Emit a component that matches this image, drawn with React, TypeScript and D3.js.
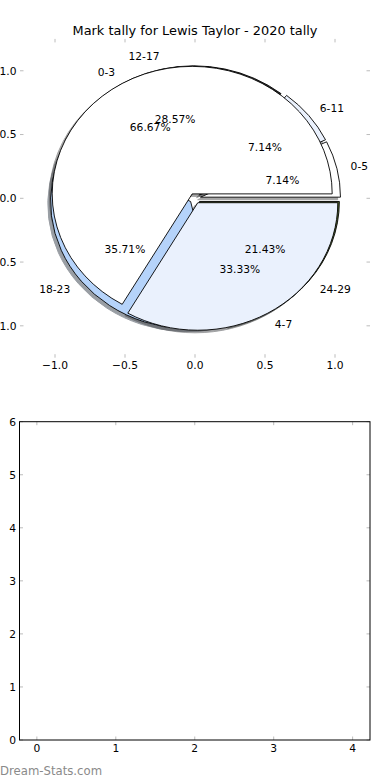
import React from 'react'
import * as d3 from 'd3'

// values
const chartTitle = 'Mark tally for Lewis Taylor - 2020 tally'
const bandLabels = ['0-5', '6-11', '12-17', '18-23', '24-29']
const bandCounts = [1, 1, 4, 5, 3]
const quarterLabels = ['0-3', '4-7']
const quarterCounts = [2, 1]
const sliceColors = ['#ffffff', '#eaf1fd', '#2e2e2e', '#b5d3fa', '#556b2f']
const pieTicks = [-1.0, -0.5, 0.0, 0.5, 1.0]
const emptyXTicks = [0, 1, 2, 3, 4]
const emptyYTicks = [0, 1, 2, 3, 4, 5, 6]

const W = 390
const H = 780
const font = 'DejaVu Sans, sans-serif'
const tickColor = '#bcbcbc'
const explode = 0.04
const shadowOff = -0.02

const topBox = { left: 20, right: 370, top: 38.9, bottom: 357.7 }
const lowBox = { left: 19.5, right: 370, top: 421.7, bottom: 740 }

const fmtTick = (v: number) => d3.format('.1f')(v).replace('-', '\u2212')
const fmtPct = d3.format('.2f')

function Pie(props: any) {
  const { labels, counts, xScale, yScale } = props
  const sx = xScale(1) - xScale(0)
  const sy = yScale(0) - yScale(1)
  const total = d3.sum(counts as number[])

  const slices = d3.pie<number>()
    .sort(null)
    .value(d => d)
    .startAngle(Math.PI / 2)
    .endAngle(Math.PI / 2 - 2 * Math.PI)(counts)

  const arcGen = d3.arc<any>()

  return slices.map((s, i) => {
    const mid = (s.startAngle + s.endAngle) / 2
    const theta = Math.PI / 2 - mid
    const ex = explode * Math.cos(theta)
    const ey = explode * Math.sin(theta)
    const d = arcGen({ innerRadius: 0, outerRadius: 1, startAngle: s.startAngle, endAngle: s.endAngle }) as string
    const fill = sliceColors[i % sliceColors.length]
    const c = d3.rgb(fill)
    const shade = d3.rgb(c.r * 0.3, c.g * 0.3, c.b * 0.3).toString()

    const lx = ex + 1.1 * Math.cos(theta)
    const ly = ey + 1.1 * Math.sin(theta)
    const px = ex + 0.6 * Math.cos(theta)
    const py = ey + 0.6 * Math.sin(theta)

    return {
      key: labels[i],
      shadow: <path key={'s' + i} d={d} fill={shade} stroke={shade} opacity={0.5}
        vectorEffect="non-scaling-stroke" strokeWidth={1}
        transform={`translate(${xScale(ex + shadowOff)},${yScale(ey + shadowOff)}) scale(${sx},${sy})`} />,
      wedge: <path key={'w' + i} d={d} fill={fill} stroke="#000" strokeWidth={0.9}
        vectorEffect="non-scaling-stroke"
        transform={`translate(${xScale(ex)},${yScale(ey)}) scale(${sx},${sy})`} />,
      texts: <g key={'t' + i}>
        <text x={xScale(lx)} y={yScale(ly)} dy="0.36em" textAnchor={lx > 0 ? 'start' : 'end'}>{labels[i]}</text>
        <text x={xScale(px)} y={yScale(py)} dy="0.36em" textAnchor="middle">{fmtPct(counts[i] / total * 100)}%</text>
      </g>
    }
  })
}

function TopPanel() {
  const xScale = d3.scaleLinear().domain([-1.25, 1.25]).range([topBox.left, topBox.right])
  const yScale = d3.scaleLinear().domain([-1.25, 1.25]).range([topBox.bottom, topBox.top])

  const bands = Pie({ labels: bandLabels, counts: bandCounts, xScale, yScale })
  const quarters = Pie({ labels: quarterLabels, counts: quarterCounts, xScale, yScale })
  const all = [...bands, ...quarters]

  return <g>
    {all.map(p => p.shadow)}
    {bands.map(p => p.wedge)}
    {quarters.map(p => p.wedge)}
    <g fontSize={10.7} fill="#000">{all.map(p => p.texts)}</g>

    {pieTicks.map(t => <g key={'x' + t} stroke={tickColor}>
      <line x1={xScale(t)} x2={xScale(t)} y1={topBox.top} y2={topBox.top + 3.5} />
      <line x1={xScale(t)} x2={xScale(t)} y1={topBox.bottom} y2={topBox.bottom - 3.5} />
    </g>)}
    {pieTicks.map(t => <g key={'y' + t} stroke={tickColor}>
      <line y1={yScale(t)} y2={yScale(t)} x1={topBox.left} x2={topBox.left + 3.5} />
      <line y1={yScale(t)} y2={yScale(t)} x1={topBox.right} x2={topBox.right - 3.5} />
    </g>)}
    <g fontSize={10.7}>
      {pieTicks.map(t => <text key={'xl' + t} x={xScale(t)} y={topBox.bottom + 11.5} textAnchor="middle">{fmtTick(t)}</text>)}
      {pieTicks.map(t => <text key={'yl' + t} x={16.5} y={yScale(t)} dy="0.36em" textAnchor="end">{fmtTick(t)}</text>)}
    </g>
    <text x={195} y={34.5} fontSize={12.9} textAnchor="middle">{chartTitle}</text>
  </g>
}

function BottomPanel() {
  const xScale = d3.scaleLinear().domain([-0.22, 4.22]).range([lowBox.left, lowBox.right])
  const yScale = d3.scaleLinear().domain([0, 6]).range([lowBox.bottom, lowBox.top])

  return <g>
    {emptyXTicks.map(t => <g key={'x' + t} stroke={tickColor}>
      <line x1={xScale(t)} x2={xScale(t)} y1={lowBox.top} y2={lowBox.top + 3.5} />
      <line x1={xScale(t)} x2={xScale(t)} y1={lowBox.bottom} y2={lowBox.bottom - 3.5} />
    </g>)}
    {emptyYTicks.map(t => <g key={'y' + t} stroke={tickColor}>
      <line y1={yScale(t)} y2={yScale(t)} x1={lowBox.left} x2={lowBox.left + 3.5} />
      <line y1={yScale(t)} y2={yScale(t)} x1={lowBox.right} x2={lowBox.right - 3.5} />
    </g>)}
    <rect x={lowBox.left} y={lowBox.top} width={lowBox.right - lowBox.left} height={lowBox.bottom - lowBox.top}
      fill="none" stroke="#000" strokeWidth={1} />
    <g fontSize={10.7}>
      {emptyXTicks.map(t => <text key={'xl' + t} x={xScale(t)} y={lowBox.bottom + 12} textAnchor="middle">{t}</text>)}
      {emptyYTicks.map(t => <text key={'yl' + t} x={16} y={yScale(t)} dy="0.36em" textAnchor="end">{t}</text>)}
    </g>
  </g>
}

export default function App() {
  return (
    <svg width={W} height={H} viewBox={`0 0 ${W} ${H}`}
      style={{ position: 'absolute', left: 0, top: 0, background: '#fff' }}
      fontFamily={font}>
      <rect width={W} height={H} fill="#fff" />
      <TopPanel />
      <BottomPanel />
      <text x={0} y={774.5} fontSize={11.7} fill="#8a8a8a">Dream-Stats.com</text>
    </svg>
  )
}
